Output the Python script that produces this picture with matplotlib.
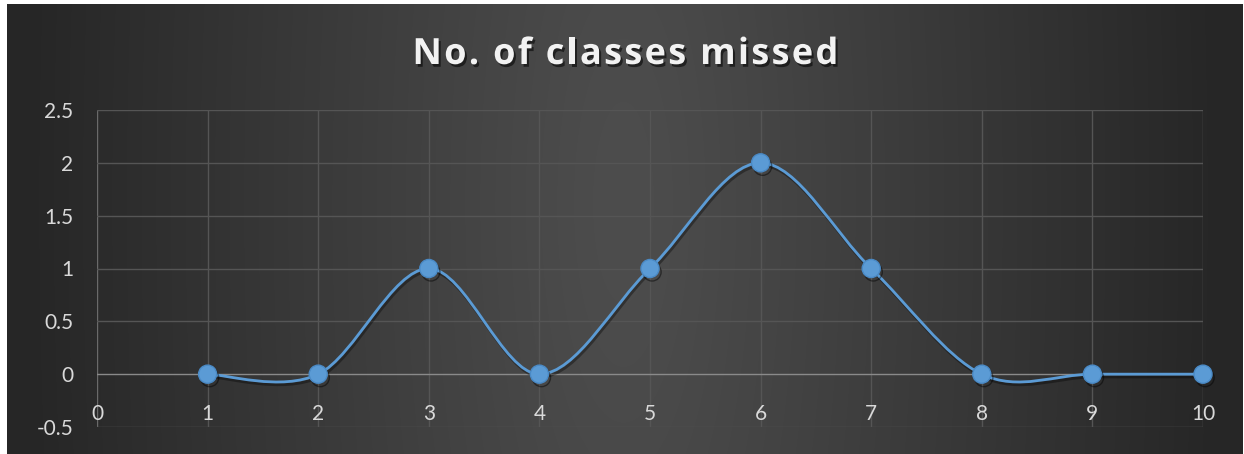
import numpy as np
import matplotlib
matplotlib.use("Agg")
import matplotlib.pyplot as plt
from matplotlib.path import Path
from matplotlib.patches import PathPatch
from matplotlib.textpath import TextPath
from matplotlib.font_manager import FontProperties, findfont, get_font
from matplotlib.ft2font import LOAD_NO_HINTING
from matplotlib.transforms import Affine2D, IdentityTransform
import matplotlib.patheffects as pe

title = "No. of classes missed"
x_vals = [1, 2, 3, 4, 5, 6, 7, 8, 9, 10]
y_vals = [0, 0, 1, 0, 1, 2, 1, 0, 0, 0]
x_ticks = list(range(0, 11))
y_ticks = [-0.5, 0, 0.5, 1, 1.5, 2, 2.5]
y_tick_labels = ["-0.5", "0", "0.5", "1", "1.5", "2", "2.5"]

W, H = 1244, 454
DPI = 100
fig = plt.figure(figsize=(W / DPI, H / DPI), dpi=DPI)
fig.patch.set_facecolor("white")

# background radial gradient (horizontally dominated)
bg = fig.add_axes([7 / W, 0, (W - 8) / W, (H - 4) / H])
bg.set_axis_off()
yy, xx = np.mgrid[0:H, 0:W]
cx, cy = 620, 200
r = np.sqrt(((xx - cx) / 600.0) ** 2 + ((yy - cy) / 2000.0) ** 2 + 0.003)
r = np.clip(r, 0, 1)
c0, c1 = 0.31, 0.15
val = c0 + (c1 - c0) * r
img = np.dstack([val, val, val])
bg.imshow(img, aspect="auto", extent=[0, 1, 0, 1], origin="upper")
bg.set_xlim(0, 1)
bg.set_ylim(0, 1)

ax = fig.add_axes([97 / W, (H - 427) / H, (1203 - 97) / W, (427 - 110) / H])
ax.set_facecolor("none")
ax.set_xlim(0, 10)
ax.set_ylim(-0.5, 2.5)
for s in ax.spines.values():
    s.set_visible(False)

grid_c = "#555555"
for xt in x_ticks:
    ax.axvline(xt, color="#6a6a6a" if xt == 0 else grid_c, lw=1.0, zorder=1)
for yt in y_ticks:
    ax.axhline(yt, color="#8a8a8a" if yt == 0 else grid_c, lw=1.0, zorder=1)

ax.set_xticks([])
ax.set_yticks(y_ticks)
ax.set_yticklabels(y_tick_labels)
ax.tick_params(axis="y", length=0, pad=17, labelsize=15, labelcolor="#d9d9d9")
for lbl in ax.get_yticklabels():
    lbl.set_fontfamily("Lato")

for xt in x_ticks:
    ax.text(xt, -0.375, str(xt), ha="center", va="center", fontsize=15,
            color="#d9d9d9", family="Lato", zorder=2)

# smoothed line (Catmull-Rom style Bezier, like Excel smoothing)
pts = np.column_stack([x_vals, y_vals]).astype(float)
n = len(pts)
verts = [tuple(pts[0])]
codes = [Path.MOVETO]
for i in range(n - 1):
    p_prev = pts[i - 1] if i > 0 else pts[i]
    p0 = pts[i]
    p1 = pts[i + 1]
    p_next = pts[i + 2] if i + 2 < n else pts[i + 1]
    c1p = p0 + (p1 - p_prev) / 6.0
    c2p = p1 - (p_next - p0) / 6.0
    verts += [tuple(c1p), tuple(c2p), tuple(p1)]
    codes += [Path.CURVE4, Path.CURVE4, Path.CURVE4]
path = Path(verts, codes)
ax.add_patch(PathPatch(path, facecolor="none", edgecolor="#5b9bd5", lw=2.0, zorder=3,
                       path_effects=[pe.SimpleLineShadow(offset=(1, -2), alpha=0.35), pe.Normal()]))

ax.plot(x_vals, y_vals, linestyle="none", marker="o", markersize=13,
        markerfacecolor="#5b9bd5", markeredgecolor="#4a8ac6", markeredgewidth=1.0,
        zorder=4, clip_on=False,
        path_effects=[pe.SimpleLineShadow(offset=(1.5, -2.5), alpha=0.45), pe.Normal()])

# title with letter spacing
size_pt = 26
fp = FontProperties(family="Open Sans", weight="bold", size=size_pt)
font = get_font(findfont(fp))
font.set_size(size_pt, DPI)
advances = []
for ch in title:
    g = font.load_char(ord(ch), flags=LOAD_NO_HINTING)
    advances.append(g.linearHoriAdvance / 65536.0)
target_w = 423.0
natural = sum(advances[:-1])
last = TextPath((0, 0), title[-1], size=size_pt * DPI / 72.0, prop=fp).get_extents().x1
spacing = (target_w - natural - last) / (len(title) - 1)
x0 = 624 - target_w / 2.0
y0 = H - 64  # baseline in pixels from bottom
pen = x0
for ch, adv in zip(title, advances):
    if ch != " ":
        tp = TextPath((0, 0), ch, size=size_pt * DPI / 72.0, prop=fp)
        patch = PathPatch(tp, facecolor="#f2f2f2", edgecolor="none", lw=0,
                          transform=Affine2D().translate(pen, y0) + IdentityTransform(),
                          path_effects=[pe.withSimplePatchShadow(offset=(1.5, -2), shadow_rgbFace="black", alpha=0.55)])
        fig.add_artist(patch)
    pen += adv + spacing

fig.savefig("out.png", dpi=DPI, facecolor=fig.get_facecolor())
